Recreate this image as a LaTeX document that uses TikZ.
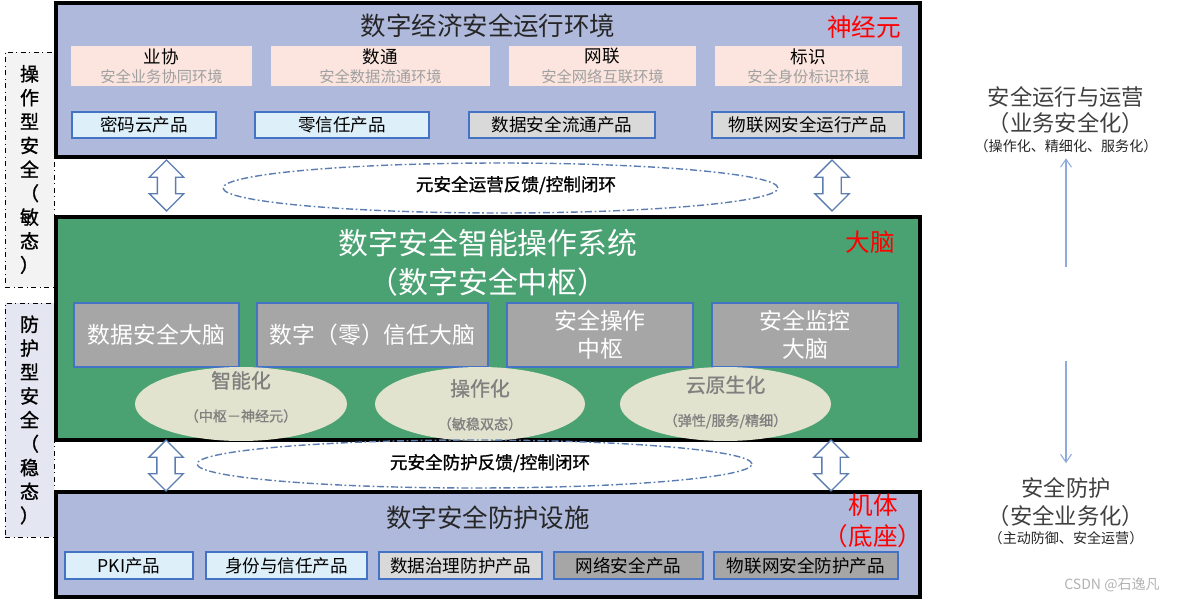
\documentclass[tikz,border=0pt]{standalone}
\usepackage{fontspec}
\setmainfont{Noto Sans CJK SC}
\newfontfamily\vastag{Noto Sans CJK SC}[FakeBold=1.2]
\usetikzlibrary{arrows.meta,positioning,shapes.geometric,shapes.arrows}
\definecolor{lila}{RGB}{175,185,220}
\definecolor{rozsa}{RGB}{251,229,222}
\definecolor{egkek}{RGB}{221,239,249}
\definecolor{vszurke}{RGB}{217,217,217}
\definecolor{szurke}{RGB}{166,166,166}
\definecolor{keretkek}{RGB}{68,114,196}
\definecolor{zold}{RGB}{74,161,114}
\definecolor{bezs}{RGB}{226,227,206}
\definecolor{nyilkek}{RGB}{91,125,177}
\definecolor{vkek}{RGB}{143,170,220}
\definecolor{halvany}{RGB}{228,230,242}
\definecolor{hszurke}{RGB}{243,243,243}
\definecolor{sotet}{RGB}{64,64,64}
\definecolor{alszurke}{RGB}{160,160,160}
\definecolor{tojasszov}{RGB}{128,128,128}
\newcommand\alcim[1]{{\fontsize{8.7}{10}\selectfont\color{alszurke}#1}}
\tikzset{
  keret/.style={draw,line width=2.2pt,inner sep=0pt},
  kartya/.style={fill=rozsa,minimum height=0.8cm,inner sep=0pt,align=center,font=\fontsize{10}{11}\selectfont},
  termek/.style={draw=keretkek,line width=0.6pt,minimum height=0.52cm,inner sep=0pt,font=\fontsize{10}{12}\selectfont},
  agy/.style={draw=keretkek,fill=szurke,line width=0.6pt,minimum height=1.28cm,inner sep=0pt,align=center,text=white,font=\fontsize{13}{16}\selectfont},
  tojas/.style={ellipse,fill=bezs,minimum height=1.48cm,inner sep=0pt},
  tszov/.style={align=center,text=tojasszov,font=\vastag\fontsize{11.3}{19}\selectfont},
  dupla/.style={double arrow,draw=nyilkek,fill=white,line width=0.8pt,rotate=90,minimum height=1.02cm,
    minimum width=0.66cm,double arrow head extend=0.16cm,inner xsep=0pt,inner ysep=0.17cm},
  hurok/.style={ellipse,draw=nyilkek,line width=0.8pt,dash pattern=on 4pt off 1.5pt on 1pt off 1.5pt,
    minimum width=11.1cm,inner sep=0pt},
  hszov/.style={font=\vastag\fontsize{10}{12}\selectfont},
  oldal/.style={draw,dash dot,line width=0.5pt,minimum width=0.98cm,inner sep=0pt,align=center,
    font=\vastag\fontsize{10.8}{13.6}\selectfont},
  piros/.style={text=red,font=\fontsize{14}{17}\selectfont,align=center},
  cim/.style={text=black!85,font=\fontsize{14.5}{17}\selectfont},
  jobbcim/.style={text=sotet,font=\fontsize{12.7}{15}\selectfont,inner sep=0pt},
  jobbmegj/.style={text=black!85,font=\fontsize{8}{10}\selectfont,inner sep=0pt},
  nyil/.style={draw=vkek,line width=0.6pt,-{Straight Barb[length=1.6mm,width=2.2mm]}},
}
\begin{document}
\begin{tikzpicture}[x=0.02cm,y=-0.02cm]
  \useasboundingbox (0,0) rectangle (1177,601);
  % bal oldali savok
  \node[oldal,fill=hszurke,minimum height=4.7cm] (muvbal) at (29.5,169.5)
    {操\\作\\型\\安\\全\\（\\敏\\态\\）};
  \node[oldal,fill=halvany,minimum height=4.68cm] (vedbal) at (29.5,420)
    {防\\护\\型\\安\\全\\（\\稳\\态\\）};
  % harom reteg
  \node[keret,fill=lila,minimum width=17.28cm,minimum height=3.08cm] (felso) at (488,80) {};
  \node[keret,fill=zold,minimum width=17.28cm,minimum height=4.46cm] (kozep) at (488,328.5) {};
  \node[keret,fill=lila,minimum width=17.28cm,minimum height=2.1cm] (also) at (488,544.5) {};
  % felso reteg
  \node[cim] (felcim) at (488,26) {数字经济安全运行环境};
  \node[piros] (neuron) at (864,27) {神经元};
  \node[kartya,minimum width=3.62cm] (yexie) at (161.5,66) {业协\\\alcim{安全业务协同环境}};
  \node[kartya,minimum width=4.38cm] (shutong) at (380.5,66) {数通\\\alcim{安全数据流通环境}};
  \node[kartya,minimum width=3.74cm] (wanglian) at (602.5,66) {网联\\\alcim{安全网络互联环境}};
  \node[kartya,minimum width=3.74cm] (biaoshi) at (808.5,66) {标识\\\alcim{安全身份标识环境}};
  \node[termek,fill=egkek,minimum width=2.88cm] (mima) at (144,125) {密码云产品};
  \node[termek,fill=egkek,minimum width=3.48cm] (lingxin) at (342,125) {零信任产品};
  \node[termek,fill=vszurke,minimum width=3.72cm] (adatfolyam) at (562,125) {数据安全流通产品};
  \node[termek,fill=vszurke,minimum width=3.84cm] (iotfut) at (808,125) {物联网安全运行产品};
  % kozepso reteg
  \node[text=white,align=center,font=\fontsize{17}{22}\selectfont] (kozcim) at (488,262.5)
    {数字安全智能操作系统\\（数字安全中枢）};
  \node[piros] (agycim) at (870,242) {大脑};
  \node[agy,minimum width=3.3cm] (adatagy) at (156.5,335) {数据安全大脑};
  \node[agy,minimum width=4.62cm] (bizagy) at (372.5,335) {数字（零）信任大脑};
  \node[agy,minimum width=3.72cm] (muvkp) at (600,335) {安全操作\\中枢};
  \node[agy,minimum width=3.72cm] (figagy) at (805,335) {安全监控\\大脑};
  \node[tojas,minimum width=4.24cm] (okos) at (241,404) {};
  \node[tojas,minimum width=4.2cm] (muv) at (480,404) {};
  \node[tojas,minimum width=4.22cm] (felho) at (725.5,404) {};
  \node[tszov] (okosszov) at (241,397) {智能化\\{\fontsize{8}{10}\selectfont（中枢－神经元）}};
  \node[tszov] (muvszov) at (480,405) {操作化\\{\fontsize{8}{10}\selectfont（敏稳双态）}};
  \node[tszov] (felhoszov) at (725.5,402) {云原生化\\{\fontsize{8}{10}\selectfont（弹性/服务/精细）}};
  % also reteg
  \node[cim] (alcimszov) at (488,518) {数字安全防护设施};
  \node[piros,font=\fontsize{14}{18}\selectfont] (gepszov) at (873,521) {机体\\（底座）};
  \node[termek,fill=egkek,minimum width=2.56cm,minimum height=0.54cm] (pki) at (129,565.5) {PKI产品};
  \node[termek,fill=egkek,minimum width=3.22cm,minimum height=0.54cm] (identitas) at (286.5,565.5) {身份与信任产品};
  \node[termek,fill=vszurke,minimum width=3.26cm,minimum height=0.54cm] (adatved) at (460.5,565.5) {数据治理防护产品};
  \node[termek,fill=szurke,minimum width=2.98cm,minimum height=0.54cm] (halozat) at (628.5,565.5) {网络安全产品};
  \node[termek,fill=szurke,minimum width=3.68cm,minimum height=0.54cm] (iotved) at (806,565.5) {物联网安全防护产品};
  % visszacsatolo hurkok
  \node[hurok,minimum height=1cm] (uzemkor) at (500.5,188) {};
  \node[hszov] (uzemszov) at (516,185) {元安全运营反馈/控制闭环};
  \node[hurok,minimum height=0.96cm] (vedkor) at (474.5,464) {};
  \node[hszov] (vedszov) at (490,463) {元安全防护反馈/控制闭环};
  \node[dupla] (fb) at (166.5,185.5) {};
  \node[dupla] (fj) at (832,185.5) {};
  \node[dupla] (ab) at (166,465.5) {};
  \node[dupla] (aj) at (831,465.5) {};
  % jobb oldal
  \node[jobbcim] (uzem) at (1066,97) {安全运行与运营};
  \node[jobbcim] (uzemal) at (1066,123) {（业务安全化）};
  \node[jobbmegj] (uzemmegj) at (1066,146) {（操作化、精细化、服务化）};
  \node[jobbcim] (vedelem) at (1066,488) {安全防护};
  \node[jobbcim] (vedal) at (1066,516) {（安全业务化）};
  \node[jobbmegj] (vedmegj) at (1066,538) {（主动防御、安全运营）};
  \coordinate (felnyil) at (1066,267);
  \coordinate (lenyil) at (1066,361);
  \draw[nyil,shorten >=3pt] (felnyil) -- (uzemmegj.south);
  \draw[nyil,shorten >=8pt] (lenyil) -- (vedelem.north);
  \node[text=black!30,font=\fontsize{8}{10}\selectfont] (jel) at (1112,585) {CSDN @石逸凡};
\end{tikzpicture}
\end{document}
